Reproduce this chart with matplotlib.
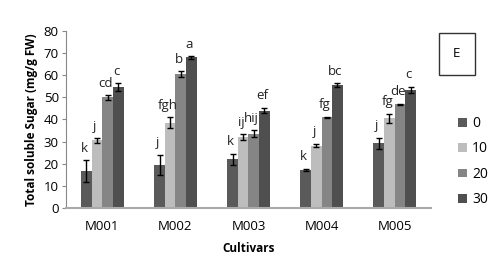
import numpy as np
import matplotlib.pyplot as plt

cultivars = ["M001", "M002", "M003", "M004", "M005"]
levels = ["0", "10", "20", "30"]

# means per level (rows) for each cultivar (columns)
means = {
    "0": [16.5, 19.5, 22.0, 17.2, 29.2],
    "10": [30.5, 38.5, 32.0, 28.2, 40.6],
    "20": [50.0, 60.5, 33.5, 41.0, 46.9],
    "30": [54.5, 68.0, 44.0, 55.6, 53.4],
}
errors = {
    "0": [5.0, 4.5, 2.5, 0.5, 2.5],
    "10": [1.0, 2.5, 1.3, 0.8, 2.0],
    "20": [1.0, 1.3, 1.5, 0.3, 0.3],
    "30": [1.8, 0.5, 1.3, 0.8, 1.3],
}
letters = {
    "0": ["k", "j", "k", "k", "j"],
    "10": ["j", "fgh", "ij", "j", "fg"],
    "20": ["cd", "b", "hij", "fg", "de"],
    "30": ["c", "a", "ef", "bc", "c"],
}
colors = ["#5a5a5a", "#bdbdbd", "#858585", "#4f4f4f"]

plt.rcParams['font.family'] = ['Open Sans', 'DejaVu Sans']

fig = plt.figure(figsize=(5.02, 2.69), dpi=100)
ax = fig.add_axes([0.131, 0.227, 0.728, 0.658])

x = np.arange(len(cultivars))
w = 0.145
for i, lev in enumerate(levels):
    pos = x + (i - 1.5) * w
    ax.bar(pos, means[lev], w, color=colors[i], label=lev,
           yerr=errors[lev], capsize=2.5,
           error_kw=dict(elinewidth=1, capthick=1, ecolor="black"))
    for p, m, e, t in zip(pos, means[lev], errors[lev], letters[lev]):
        ax.text(p - 0.03, m + e + 2.5, t, ha="center", va="bottom", fontsize=9.5, color="#222222")

ax.set_xlim(-0.5, 4.5)
ax.set_ylim(0, 80)
ax.set_yticks(np.arange(0, 81, 10))
ax.set_xticks(x)
ax.set_xticklabels(cultivars)
ax.tick_params(axis="x", length=0, labelsize=9.5, pad=9)
ax.tick_params(axis="y", length=3, labelsize=9.5, color="#888888", pad=2)
for s in ["top", "right"]:
    ax.spines[s].set_visible(False)
ax.spines["left"].set_color("#888888")
ax.spines["bottom"].set_color("#aaaaaa")
ax.spines["bottom"].set_linewidth(1.5)

ax.set_ylabel("Total soluble Sugar (mg/g FW)", fontsize=8.5, fontweight="bold", labelpad=4)
ax.set_xlabel("Cultivars", fontsize=8.5, fontweight="bold", labelpad=6)

ax.legend(loc="upper left", bbox_to_anchor=(1.04, 0.59), frameon=False,
          fontsize=10, handlelength=0.6, handleheight=0.6, handletextpad=0.4,
          labelspacing=0.75)

fig.text(0.91, 0.80, "E", ha="center", va="center", fontsize=9.5,
         bbox=dict(boxstyle="square,pad=1.1", facecolor="white", edgecolor="#333333", linewidth=1))

fig.savefig("out.png", dpi=100)
